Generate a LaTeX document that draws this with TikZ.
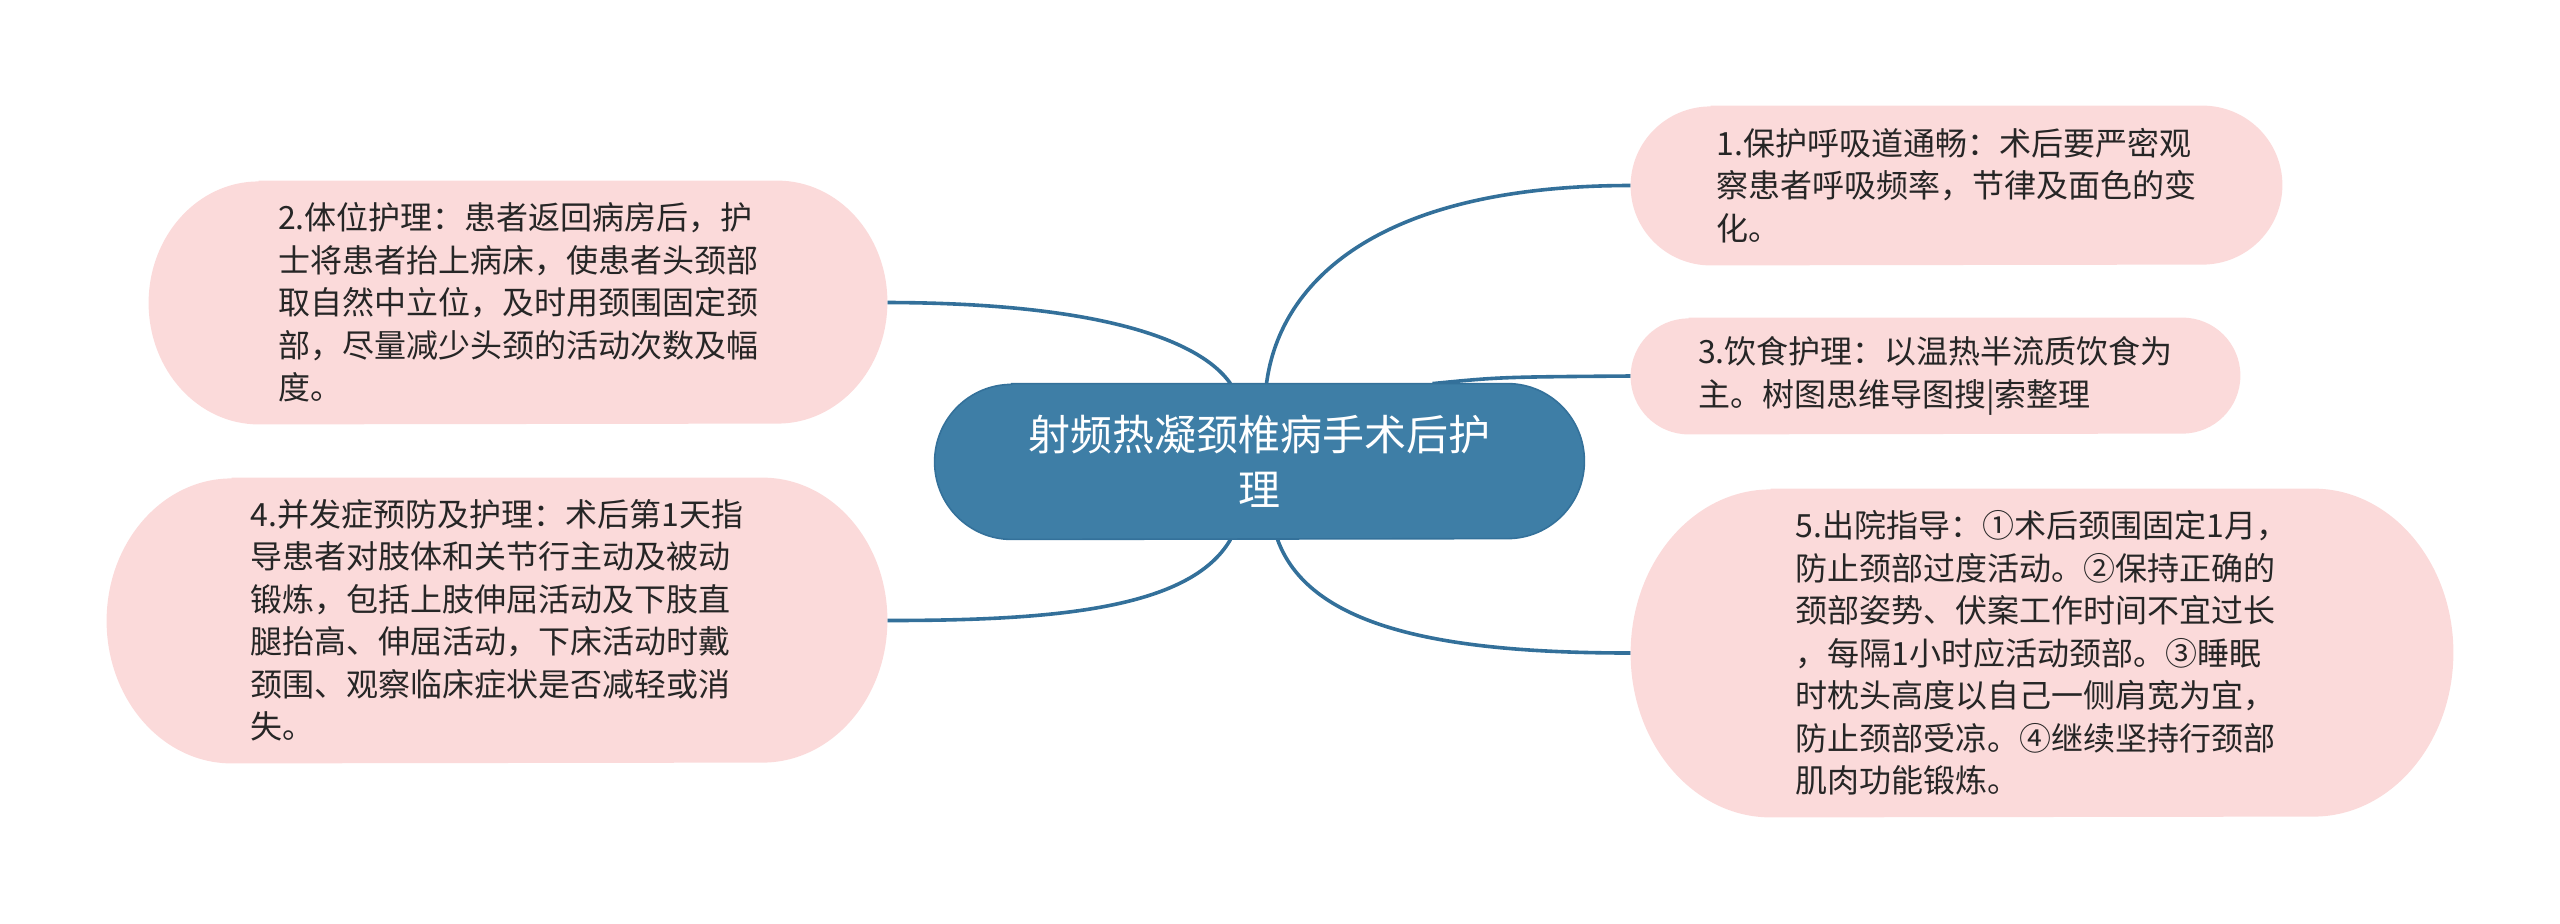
\documentclass[tikz,border=0pt]{standalone}
\usepackage{fontspec}
\setmainfont{Noto Sans CJK SC}
\usetikzlibrary{positioning,calc,backgrounds}
\definecolor{rootblue}{HTML}{3E7EA6}
\definecolor{rootedge}{HTML}{34719A}
\definecolor{linkblue}{HTML}{33709A}
\definecolor{leafpink}{HTML}{FBDADA}
\definecolor{leaftext}{HTML}{262626}

% capsule behind a node: name, x radius, y radius, style
\newcommand\pill[4]{%
  \path[#4] ($(#1.north west)+(#2,0)$) -- ($(#1.north east)+(-#2,0)$)
    arc[start angle=90,end angle=-90,x radius={#2*0.5pt},y radius={#3*0.5pt}]
    -- ($(#1.south west)+(#2,0)$)
    arc[start angle=270,end angle=90,x radius={#2*0.5pt},y radius={#3*0.5pt}] -- cycle;}

\tikzset{
  leaf/.style={font=\fontsize{16pt}{21.25pt}\selectfont, text=leaftext,
    align=left, inner sep=0pt},
  root/.style={font=\fontsize{21pt}{27.5pt}\selectfont, text=white,
    align=center, inner sep=0pt},
  link/.style={linkblue, line width=1.8pt},
}

\begin{document}
\begin{tikzpicture}[x=0.5pt,y=0.5pt]
  \useasboundingbox (0,0) rectangle (2560,-923);

  % central topic
  \node[root, minimum width=324.5pt, minimum height=77.5pt] (root) at (1259.5,-461.5)
    {射频热凝颈椎病手术后护\\理};

  % branches
  \node[leaf, minimum width=325.5pt, minimum height=79.5pt] (n1) at (1956.5,-185.5)
    {1.保护呼吸道通畅：术后要严密观\\察患者呼吸频率，节律及面色的变\\化。};
  \node[leaf, minimum width=369pt, minimum height=121.5pt] (n2) at (518,-302.5)
    {2.体位护理：患者返回病房后，护\\士将患者抬上病床，使患者头颈部\\取自然中立位，及时用颈围固定颈\\部，尽量减少头颈的活动次数及幅\\度。};
  \node[leaf, minimum width=304.5pt, minimum height=58pt] (n3) at (1935.5,-376)
    {3.饮食护理：以温热半流质饮食为\\主。树图思维导图搜|索整理};
  \node[leaf, minimum width=390pt, minimum height=142.5pt] (n4) at (497,-620.5)
    {4.并发症预防及护理：术后第1天指\\导患者对肢体和关节行主动及被动\\锻炼，包括上肢伸屈活动及下肢直\\腿抬高、伸屈活动，下床活动时戴\\颈围、观察临床症状是否减轻或消\\失。};
  \node[leaf, minimum width=411pt, minimum height=164pt] (n5) at (2042,-653)
    {5.出院指导：①术后颈围固定1月，\\防止颈部过度活动。②保持正确的\\颈部姿势、伏案工作时间不宜过长\\，每隔1小时应活动颈部。③睡眠\\时枕头高度以自己一侧肩宽为宜，\\防止颈部受凉。④继续坚持行颈部\\肌肉功能锻炼。};

  \begin{scope}[on background layer]
    % connectors
    \draw[link] ($(root.north)+(-29,0)$) .. controls (1200,-340) and (1100,-303) .. (n2.east);
    \draw[link] ($(root.north)+(7,0)$) .. controls (1280,-280) and (1380,-185.5) .. (n1.west);
    \draw[link] ($(root.north east)+(-152,0)$) .. controls (1500,-377) .. (n3.west);
    \draw[link] ($(root.south)+(-29,0)$) .. controls (1190,-610) and (1050,-620.5) .. (n4.east);
    \draw[link] ($(root.south)+(18,0)$) .. controls (1310,-630) and (1450,-653) .. (n5.west);
    % shapes
    \pill{root}{77}{77.5}{fill=rootblue, draw=rootedge, line width=0.8pt}
    \pill{n1}{80}{79.5}{fill=leafpink}
    \pill{n2}{110}{121.5}{fill=leafpink}
    \pill{n3}{58}{58}{fill=leafpink}
    \pill{n4}{125}{142.5}{fill=leafpink}
    \pill{n5}{140}{164}{fill=leafpink}
  \end{scope}
\end{tikzpicture}
\end{document}
